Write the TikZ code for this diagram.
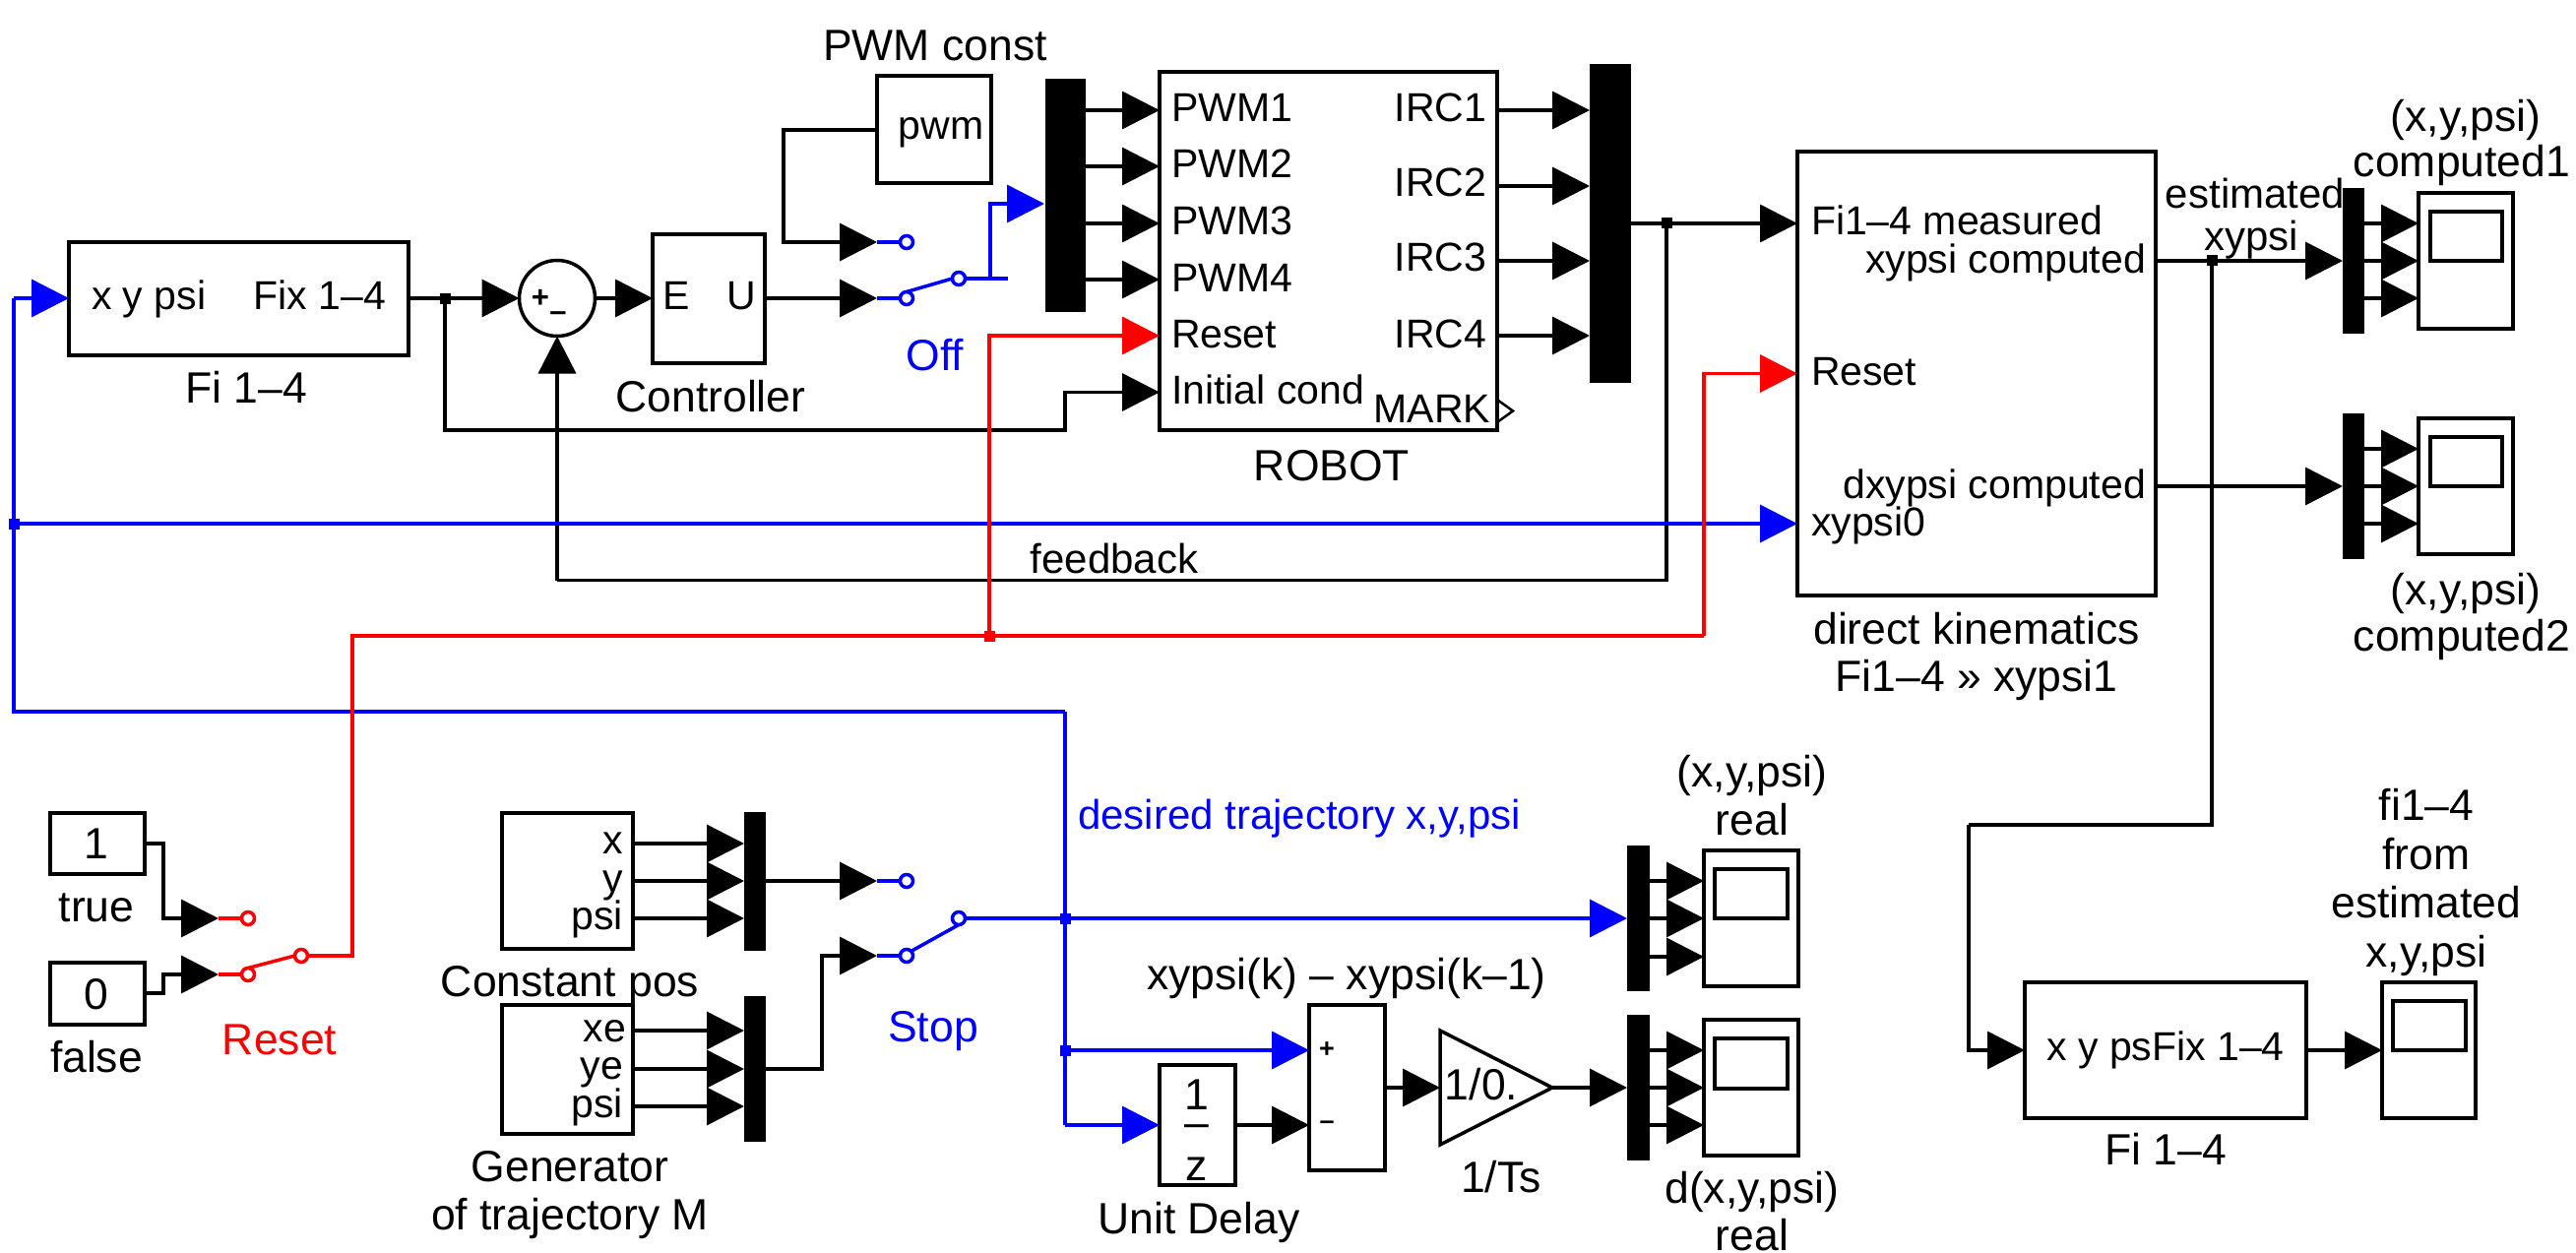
\documentclass[tikz,border=0pt]{standalone}
\usepackage{fontspec}
\setmainfont{Liberation Sans}
\usetikzlibrary{arrows.meta,shapes.geometric}
\definecolor{simblue}{RGB}{0,0,255}
\definecolor{simred}{RGB}{255,0,0}
\newcommand\boxat[6][blockbox]{\node[#1,minimum width={#5pt-#3pt},minimum height={#6pt-#4pt}] (#2) at ({(#3+#5)/2},{(#4+#6)/2}) {};}
\tikzset{
  blockbox/.style={draw=black,line width=3.5pt,fill=white,inner sep=0pt,outer sep=0pt},
  muxbar/.style={draw=none,fill=black,inner sep=0pt,outer sep=0pt},
  lab/.style={inner sep=0pt,outer sep=0pt,font=\fontsize{44.5}{50}\selectfont,anchor=base},
  labw/.style={lab,font=\fontsize{41}{46}\selectfont,anchor=base west},
  labe/.style={lab,font=\fontsize{41}{46}\selectfont,anchor=base east},
  portc/.style={lab,font=\fontsize{41}{46}\selectfont},
  midc/.style={lab,font=\fontsize{42}{46}\selectfont},
  tiny/.style={inner sep=0pt,outer sep=0pt,font=\bfseries\fontsize{31}{32}\selectfont,anchor=center},
  wire/.style={line width=3.5pt,draw=black},
  bluew/.style={wire,draw=simblue},
  redw/.style={wire,draw=simred},
  arr/.style={-{Triangle[length=38pt,width=38pt]}},
  dot/.style={fill=black,draw=none,minimum size=11pt,inner sep=0pt,outer sep=0pt},
  bluedot/.style={dot,fill=simblue},
  reddot/.style={dot,fill=simred},
  contactb/.style={circle,draw=simblue,line width=3.5pt,fill=white,minimum size=13pt,inner sep=0pt,outer sep=0pt},
  contactr/.style={contactb,draw=simred},
  gainshape/.style={draw=black,line width=3.5pt,fill=white}
}
\begin{document}
\begin{tikzpicture}[x=1pt,y=-1pt]
\path[use as bounding box,fill=white] (0,0) rectangle (2617,1273);
% blocks
\boxat{fia}{70}{246}{415}{361}
\boxat{ctrl}{663}{238}{777}{369}
\boxat{pwmc}{891}{77}{1007}{186}
\boxat{robot}{1178}{73}{1521}{437}
\boxat{dk}{1826}{154}{2190}{605}
\boxat{truec}{51}{826}{147}{888}
\boxat{falsec}{51}{978}{147}{1041}
\boxat{cpos}{510}{826}{643}{964}
\boxat{gen}{510}{1021}{643}{1152}
\boxat{udel}{1178}{1082}{1255}{1204}
\boxat{diff}{1330}{1021}{1407}{1189}
\boxat{fib}{2057}{998}{2343}{1136}
% scopes
\boxat{scA}{2457}{196}{2553}{334}\boxat{scAs}{2469}{215}{2542}{265}
\boxat{scB}{2457}{425}{2553}{563}\boxat{scBs}{2469}{444}{2542}{494}
\boxat{scC}{1731}{864}{1827}{1002}\boxat{scCs}{1742}{883}{1816}{933}
\boxat{scD}{1731}{1036}{1827}{1174}\boxat{scDs}{1742}{1055}{1816}{1106}
\boxat{scE}{2420}{998}{2515}{1136}\boxat{scEs}{2431}{1017}{2505}{1067}
% muxes
\boxat[muxbar]{muxA}{1062}{80}{1103}{317}
\boxat[muxbar]{muxB}{1615}{65}{1657}{389}
\boxat[muxbar]{muxC}{2380}{191}{2402}{339}
\boxat[muxbar]{muxD}{2380}{420}{2402}{568}
\boxat[muxbar]{muxE}{756}{825}{778}{966}
\boxat[muxbar]{muxF}{756}{1012}{778}{1160}
\boxat[muxbar]{muxG}{1653}{859}{1676}{1007}
\boxat[muxbar]{muxH}{1653}{1031}{1676}{1179}
% sum, gain
\node[blockbox,circle,minimum size=77pt] (sum) at (566,303) {};
\path[gainshape] (1463,1047) -- (1577,1105) -- (1463,1163) -- cycle;
\coordinate (gainin) at (1463,1105);
\coordinate (gainout) at (1577,1105);
% contacts
\node[contactb] (swAa) at (921,246) {};
\node[contactb] (swAb) at (921,303) {};
\node[contactb] (swAc) at (974,283) {};
\node[contactb] (swBa) at (921,895) {};
\node[contactb] (swBb) at (921,971) {};
\node[contactb] (swBc) at (974,933) {};
\node[contactr] (swRa) at (252,933) {};
\node[contactr] (swRb) at (252,990) {};
\node[contactr] (swRc) at (306,971) {};
% junctions
\node[dot] (jA) at (452,303) {};
\node[dot] (jB) at (1693,227) {};
\node[dot] (jC) at (2247,265) {};
\node[bluedot] (jD) at (14,532) {};
\node[bluedot] (jE) at (1082,933) {};
\node[bluedot] (jF) at (1082,1067) {};
\node[reddot] (jG) at (1005,646) {};
% named bends and free ends
\coordinate (swAin) at (891,303);
\coordinate (swAain) at (891,246);
\coordinate (swBain) at (891,895);
\coordinate (swBbin) at (891,971);
\coordinate (swRain) at (222,933);
\coordinate (swRbin) at (222,990);
\coordinate (swAstub) at (1024,283);
\coordinate (swAup) at (1006,283);
\coordinate (muxAb) at (1061,207);
% black wires
\draw[wire,arr] (fia.east |- 0,303) -- (sum.west);
\draw[wire,arr] (sum.east) -- (ctrl.west |- 0,303);
\draw[wire,arr] (ctrl.east |- 0,303) -- (swAin);
\draw[wire,arr] (pwmc.west |- 0,132) -| (796,246) -- (swAain);
\foreach \yy in {112,169,227,284} \draw[wire,arr] (muxA.east |- 0,\yy) -- (robot.west |- 0,\yy);
\foreach \yy in {112,189,265,341} \draw[wire,arr] (robot.east |- 0,\yy) -- (muxB.west |- 0,\yy);
\draw[wire] (jA) |- (1082,437) |- (1100,398.5);
\draw[wire,arr] (1082,398.5) -- (robot.west |- 0,398.5);
\draw[wire,arr] (muxB.east |- 0,227) -- (dk.west |- 0,227);
\draw[wire] (jB) |- (566,589.5);
\draw[wire,arr] (566,589.5) -- (sum.south);
\draw[wire,arr] (dk.east |- 0,265) -- (muxC.west |- 0,265);
\draw[wire,arr] (dk.east |- 0,494) -- (muxD.west |- 0,494);
\draw[wire] (jC) |- (2000,838);
\draw[wire,arr] (2000,838) |- (fib.west |- 0,1067);
\draw[wire,arr] (fib.east |- 0,1067) -- (scE.west |- 0,1067);
\foreach \yy in {227,265,303} \draw[wire,arr] (muxC.east |- 0,\yy) -- (scA.west |- 0,\yy);
\foreach \yy in {456,494,532} \draw[wire,arr] (muxD.east |- 0,\yy) -- (scB.west |- 0,\yy);
\foreach \yy in {895,933,972} \draw[wire,arr] (muxG.east |- 0,\yy) -- (scC.west |- 0,\yy);
\foreach \yy in {1067,1105,1143} \draw[wire,arr] (muxH.east |- 0,\yy) -- (scD.west |- 0,\yy);
\foreach \yy in {857,895,933} \draw[wire,arr] (cpos.east |- 0,\yy) -- (muxE.west |- 0,\yy);
\foreach \yy in {1047,1086,1124} \draw[wire,arr] (gen.east |- 0,\yy) -- (muxF.west |- 0,\yy);
\draw[wire,arr] (muxE.east |- 0,895) -- (swBain);
\draw[wire,arr] (muxF.east |- 0,1086) -| (835,971) -- (swBbin);
\draw[wire,arr] (truec.east |- 0,857) -| (166,933) -- (swRain);
\draw[wire,arr] (falsec.east |- 0,1009) -| (166,990) -- (swRbin);
\draw[wire,arr] (udel.east |- 0,1143) -- (diff.west |- 0,1143);
\draw[wire,arr] (diff.east |- 0,1105) -- (gainin);
\draw[wire,arr] (gainout) -- (muxH.west |- 0,1105);
% blue wires
\draw[bluew] (swAin) -- (swAb.west);
\draw[bluew] (swAain) -- (swAa.west);
\draw[bluew] (swAb.north) -- (swAc.west);
\draw[bluew] (swAc.east) -- (swAstub);
\draw[bluew,arr] (swAup) |- (muxAb);
\draw[bluew] (swBain) -- (swBa.west);
\draw[bluew] (swBbin) -- (swBb.west);
\draw[bluew] (swBb.north east) -- (swBc.south);
\draw[bluew,arr] (swBc.east) -- (muxG.west |- 0,933);
\draw[bluew,arr] (14,303) -- (fia.west |- 0,303);
\draw[bluew] (14,303) |- (jE.north |- 0,723);
\draw[bluew] (jE.north |- 0,723) |- (jF) ;
\draw[bluew,arr] (jF.east) -- (diff.west |- 0,1067);
\draw[bluew] (jF) -- (1082,1143);
\draw[bluew,arr] (1082,1143) -- (udel.west |- 0,1143);
\draw[bluew,arr] (jD) -- (dk.west |- 0,532);
% red wires
\draw[redw] (swRain) -- (swRa.west);
\draw[redw] (swRbin) -- (swRb.west);
\draw[redw] (swRb.north) -- (swRc.west);
\draw[redw] (swRc.east) -| (358,646) -- (jG);
\draw[redw,arr] (jG) |- (robot.west |- 0,341);
\draw[redw] (jG) -- (1731,646);
\draw[redw,arr] (1731,646) |- (dk.west |- 0,379.5);
% MARK port
\draw[line width=2.5pt] (1521,406) -- (1537,417.5) -- (1521,429);
% sum and diff signs
\node[tiny] (sumplus) at (549,303) {+};
\node[tiny] (summinus) at (567,322) {–};
\node[tiny,font=\bfseries\fontsize{27}{30}\selectfont] (diffplus) at (1348,1067) {+};
\node[tiny,font=\bfseries\fontsize{27}{30}\selectfont] (diffminus) at (1348,1143) {–};
% labels
\node[lab] (t1) at (950,62) {PWM const};
\node[portc] (t2) at (956,142) {pwm};
\node[labw] (t3) at (93,314) {x y psi};
\node[labe] (t4) at (392,314) {Fix 1–4};
\node[lab] (t5) at (250,409) {Fi 1–4};
\node[lab] (t6) at (722,418) {Controller};
\node[portc] (t7) at (687,314) {E};
\node[portc] (t8) at (753,314) {U};
\node[lab,text=simblue] (t9) at (950,376) {Off};
\node[labw] (r1) at (1190,124) {PWM1};
\node[labw] (r2) at (1190,181) {PWM2};
\node[labw] (r3) at (1190,239) {PWM3};
\node[labw] (r4) at (1190,296) {PWM4};
\node[labw] (r5) at (1190,353.5) {Reset};
\node[labw] (r6) at (1190,410) {Initial cond};
\node[labe] (i1) at (1510,124) {IRC1};
\node[labe] (i2) at (1510,200) {IRC2};
\node[labe] (i3) at (1510,276) {IRC3};
\node[labe] (i4) at (1510,353) {IRC4};
\node[labe] (i5) at (1514,429) {MARK};
\node[lab] (t10) at (1353,488) {ROBOT};
\node[midc] (t11) at (1132,582) {feedback};
\node[labw] (d1) at (1840,239) {Fi1–4 measured};
\node[labe] (d2) at (2180,277) {xypsi computed};
\node[labw] (d3) at (1840,391) {Reset};
\node[labe] (d4) at (2180,506) {dxypsi computed};
\node[labw] (d5) at (1840,544) {xypsi0};
\node[lab] (d6) at (2008,654) {direct kinematics};
\node[lab] (d7) at (2008,702) {Fi1–4 » xypsi1};
\node[midc] (e1) at (2291,212) {estimated};
\node[midc] (e2) at (2287,255) {xypsi};
\node[lab] (c1) at (2505,134) {(x,y,psi)};
\node[lab] (c2) at (2501,180) {computed1};
\node[lab] (c3) at (2505,614) {(x,y,psi)};
\node[lab] (c4) at (2501,661) {computed2};
\node[lab] (b1) at (98,872) {1};
\node[lab] (b2) at (98,936) {true};
\node[lab] (b3) at (98,1025) {0};
\node[lab] (b4) at (98,1089) {false};
\node[lab,text=simred] (b5) at (284,1071) {Reset};
\node[labe] (b6) at (633,867) {x};
\node[labe] (b7) at (633,906) {y};
\node[labe] (b8) at (633,944) {psi};
\node[lab] (b9) at (579,1012) {Constant pos};
\node[labe] (b10) at (636,1058) {xe};
\node[labe] (b11) at (633,1096) {ye};
\node[labe] (b12) at (633,1135) {psi};
\node[lab] (b13) at (579,1200) {Generator};
\node[lab] (b14) at (579,1249) {of trajectory M};
\node[lab,text=simblue] (b15) at (948,1058) {Stop};
\node[lab,font=\fontsize{42}{46}\selectfont,anchor=base west,text=simblue] (b16) at (1095,842) {desired trajectory x,y,psi};
\node[lab] (s1) at (1780,799) {(x,y,psi)};
\node[lab] (s2) at (1780,848) {real};
\node[lab] (s3) at (1368,1005) {xypsi(k) – xypsi(k–1)};
\node[lab] (s4) at (1505,1117) {1/0.};
\node[lab] (s5) at (1525,1211) {1/Ts};
\node[lab] (s6) at (1780,1222) {d(x,y,psi)};
\node[lab] (s7) at (1780,1270) {real};
\node[lab] (s8) at (1218,1253) {Unit Delay};
\node[lab] (u1) at (1216,1127) {1};
\node[lab] (u2) at (1216,1155) {–};
\node[lab] (u3) at (1216,1199) {z};
\node[portc] (f1) at (2200,1077) {x y psFix 1–4};
\node[lab] (f2) at (2200,1183) {Fi 1–4};
\node[lab] (f3) at (2465,833) {fi1–4};
\node[lab] (f4) at (2465,883) {from};
\node[lab] (f5) at (2465,932) {estimated};
\node[lab] (f6) at (2465,982) {x,y,psi};
\end{tikzpicture}
\end{document}
